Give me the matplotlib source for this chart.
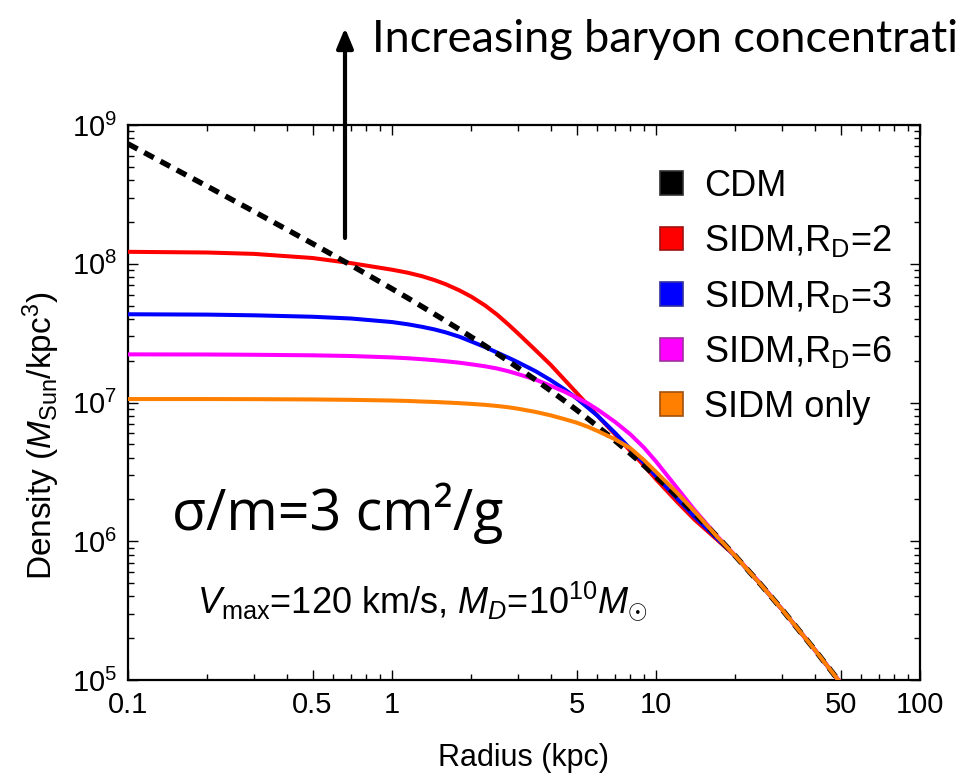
import matplotlib
matplotlib.use("Agg")
import matplotlib.pyplot as plt
from matplotlib.patches import Patch, FancyArrowPatch
from matplotlib.ticker import FixedLocator, NullFormatter

plt.rcParams['font.family'] = ['Liberation Sans', 'DejaVu Sans']
plt.rcParams['mathtext.fontset'] = 'custom'
plt.rcParams['mathtext.rm'] = 'Liberation Sans'
plt.rcParams['mathtext.it'] = 'Liberation Sans:italic'
plt.rcParams['mathtext.bf'] = 'Liberation Sans:bold'

# radius grid (kpc) and density profiles (M_sun / kpc^3)
radius = [0.1, 0.2, 0.3, 0.5, 0.7, 1.0, 1.15, 1.3, 1.45, 1.6, 1.8, 2.0, 2.25, 2.5,
          2.75, 3.0, 3.5, 4.0, 4.5, 5.0, 5.5, 6, 7, 8, 9, 10, 12, 14, 17, 20, 25,
          30, 40, 50]
rho_cdm = [7.31e8, 3.61e8, 2.38e8, 1.397e8, 9.75e7, 6.60e7, 5.65e7, 4.91e7, 4.33e7,
           3.86e7, 3.36e7, 2.96e7, 2.565e7, 2.25e7, 1.994e7, 1.78e7, 1.454e7, 1.212e7,
           1.028e7, 8.84e6, 7.68e6, 6.74e6, 5.30e6, 4.28e6, 3.52e6, 2.93e6, 2.12e6,
           1.59e6, 1.088e6, 7.81e5, 4.85e5, 3.23e5, 1.646e5, 9.53e4]
rho_rd2 = [1.219e8, 1.205e8, 1.178e8, 1.10e8, 1.01e8, 9.06e7, 8.61e7, 8.13e7, 7.62e7,
           7.11e7, 6.43e7, 5.78e7, 5.01e7, 4.30e7, 3.67e7, 3.15e7, 2.38e7, 1.86e7,
           1.46e7, 1.175e7, 9.66e6, 8.04e6, 5.89e6, 4.47e6, 3.51e6, 2.80e6, 1.93e6,
           1.43e6, 1.03e6, 7.8e5, 4.85e5, 3.23e5, 1.646e5, 9.53e4]
rho_rd3 = [4.325e7, 4.30e7, 4.25e7, 4.15e7, 4.03e7, 3.80e7, 3.66e7, 3.51e7, 3.36e7,
           3.20e7, 2.98e7, 2.75e7, 2.51e7, 2.29e7, 2.11e7, 1.95e7, 1.68e7, 1.445e7,
           1.245e7, 1.072e7, 9.23e6, 8.04e6, 6.03e6, 4.62e6, 3.67e6, 2.95e6, 2.04e6,
           1.50e6, 1.05e6, 7.8e5, 4.85e5, 3.23e5, 1.646e5, 9.53e4]
rho_rd6 = [2.223e7, 2.218e7, 2.208e7, 2.188e7, 2.163e7, 2.113e7, 2.084e7, 2.051e7,
           2.018e7, 1.982e7, 1.936e7, 1.884e7, 1.824e7, 1.758e7, 1.683e7, 1.603e7,
           1.462e7, 1.318e7, 1.197e7, 1.084e7, 9.89e6, 8.91e6, 7.24e6, 5.89e6,
           4.73e6, 3.76e6, 2.43e6, 1.68e6, 1.096e6, 7.85e5, 4.9e5, 3.23e5, 1.646e5,
           9.53e4]
rho_sidm = [1.059e7, 1.059e7, 1.057e7, 1.052e7, 1.045e7, 1.033e7, 1.026e7, 1.016e7,
            1.009e7, 1.0e7, 9.89e6, 9.77e6, 9.62e6, 9.44e6, 9.25e6, 9.02e6, 8.55e6,
            8.07e6, 7.59e6, 7.16e6, 6.70e6, 6.24e6, 5.43e6, 4.68e6, 3.85e6, 3.16e6,
            2.24e6, 1.64e6, 1.084e6, 7.81e5, 4.85e5, 3.23e5, 1.646e5, 9.53e4]

labels = ['CDM', r'SIDM,R$_{\rm D}$=2', r'SIDM,R$_{\rm D}$=3',
          r'SIDM,R$_{\rm D}$=6', 'SIDM only']
colors = ['black', '#ff0000', '#0000ff', '#ff00ff', '#ff8000']
edges = ['#303030', '#a01010', '#3030a0', '#a030a0', '#a05010']

xticks = [0.1, 0.5, 1, 5, 10, 50, 100]
xticklabels = ['0.1', '0.5', '1', '5', '10', '50', '100']
yticks = [1e5, 1e6, 1e7, 1e8, 1e9]
yticklabels = [r'$10^{5}$', r'$10^{6}$', r'$10^{7}$', r'$10^{8}$', r'$10^{9}$']

fig = plt.figure(figsize=(9.59, 7.75), dpi=100)
ax = fig.add_axes([128 / 959, 95 / 775, 792 / 959, 555 / 775])

ax.plot(radius, rho_rd2, color=colors[1], lw=2.9, zorder=3)
ax.plot(radius, rho_rd3, color=colors[2], lw=2.9, zorder=4)
ax.plot(radius, rho_rd6, color=colors[3], lw=2.9, zorder=5)
ax.plot(radius, rho_cdm, color=colors[0], lw=3.9, ls=(0, (2.0, 1.4)),
        dash_capstyle='butt', zorder=6)
ax.plot(radius, rho_sidm, color=colors[4], lw=2.9, zorder=7)

ax.set_xscale('log')
ax.set_yscale('log')
ax.set_xlim(0.1, 100)
ax.set_ylim(1e5, 1e9)

ax.xaxis.set_major_locator(FixedLocator(xticks))
ax.set_xticklabels(xticklabels)
minor_x = [m * 10 ** e for e in (-1, 0, 1) for m in (2, 3, 4, 6, 7, 8, 9)]
ax.xaxis.set_minor_locator(FixedLocator(minor_x))
ax.xaxis.set_minor_formatter(NullFormatter())
ax.yaxis.set_major_locator(FixedLocator(yticks))
ax.set_yticklabels(yticklabels)
minor_y = [m * 10 ** e for e in (5, 6, 7, 8) for m in range(2, 10)]
ax.yaxis.set_minor_locator(FixedLocator(minor_y))
ax.yaxis.set_minor_formatter(NullFormatter())

ax.tick_params(which='both', direction='in', top=True, right=True, width=1)
ax.tick_params(which='major', length=7, labelsize=21, pad=8)
ax.tick_params(which='minor', length=4)
for sp in ax.spines.values():
    sp.set_linewidth(1.6)

ax.set_xlabel('Radius (kpc)', fontsize=22)
ax.xaxis.set_label_coords(0.5, -0.113)
ax.xaxis.label.set_va('top')
ax.set_ylabel(r'Density ($M_{\rm Sun}$/kpc$^{3}$)', fontsize=24)
ax.yaxis.set_label_coords(-0.083, 0.44)

handles = [Patch(facecolor=c, edgecolor=e, linewidth=1.2) for c, e in zip(colors, edges)]
ax.legend(handles, labels, loc='upper left', bbox_to_anchor=(0.672, 0.921),
          frameon=False, fontsize=26, handlelength=0.62, handleheight=0.62,
          handletextpad=0.6, labelspacing=0.54, borderpad=0, borderaxespad=0)

ax.text(0.056, 0.27, 'σ/m=3 cm²/g', transform=ax.transAxes, fontsize=40,
        family=['Open Sans', 'DejaVu Sans'], va='baseline')
ax.text(0.087, 0.12, r'$V_{\rm max}$=120 km/s, $M_D$=10$^{10}$$M_{\odot}$',
        transform=ax.transAxes, fontsize=26, va='baseline')

# arrow and caption above the axes
arrow = FancyArrowPatch((345 / 959, 1 - 238 / 775), (345 / 959, 1 - 28 / 775),
                        transform=fig.transFigure,
                        arrowstyle='-|>,head_length=0.6,head_width=0.25',
                        mutation_scale=20, lw=3, color='black', shrinkA=0, shrinkB=0)
fig.add_artist(arrow)
fig.text(372 / 959, 1 - 52 / 775, 'Increasing baryon concentration', fontsize=32.5,
         family=['Lato', 'DejaVu Sans'], va='baseline')

fig.savefig('out.png', dpi=100)
